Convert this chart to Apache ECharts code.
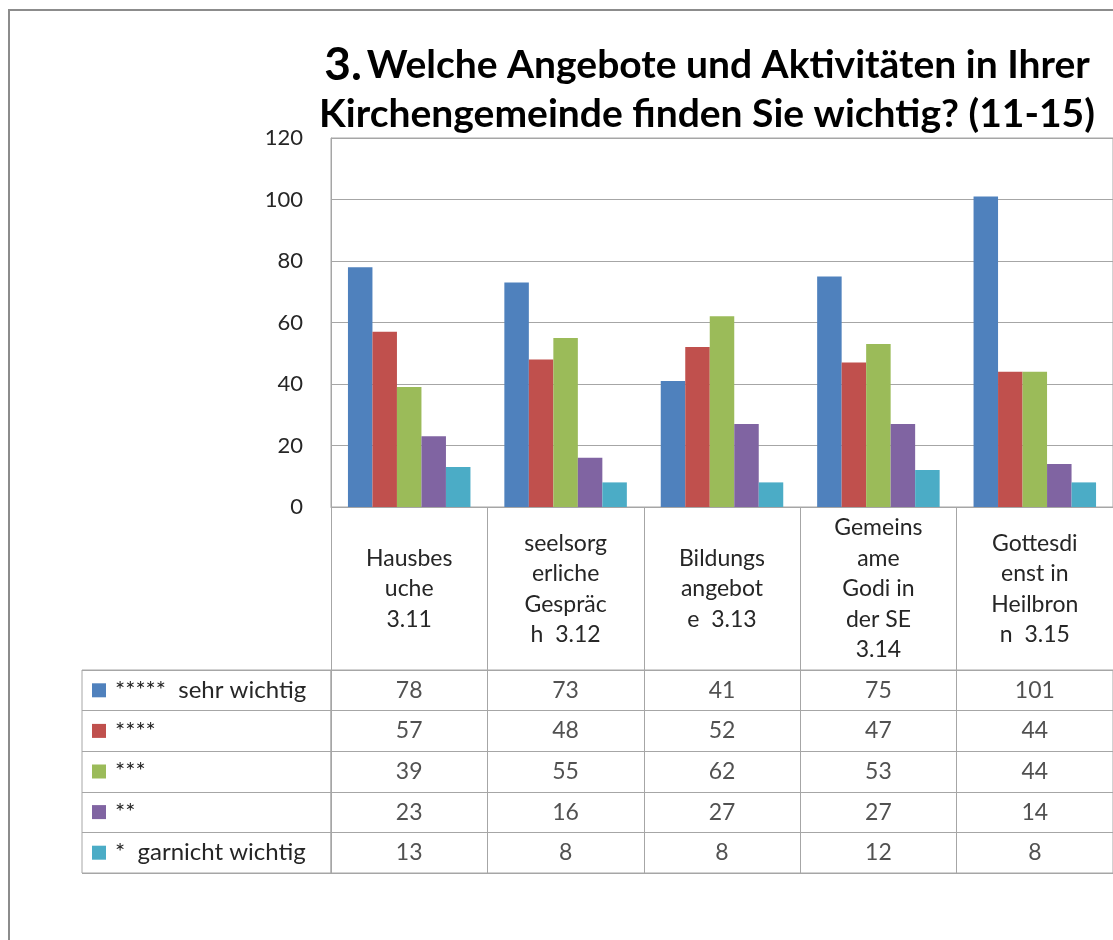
<!DOCTYPE html>
<html>
<head>
    <meta charset="utf-8">
    <title>Angebote und Aktivitäten</title>
    <script src="https://cdn.jsdelivr.net/npm/echarts@6/dist/echarts.min.js"></script>
    <style>
        body { margin: 0; background: #fff; }
    </style>
</head>
<body>
<div id="main" style="width: 1113px;height:940px;"></div>
<script type="text/javascript">
    // Kategorien (Zeilenumbrüche wie im Original)
    var categories = [
        'Hausbes\nuche\n3.11',
        'seelsorg\nerliche\nGespräc\nh  3.12',
        'Bildungs\nangebot\ne  3.13',
        'Gemeins\name\nGodi in\nder SE\n3.14',
        'Gottesdi\nenst in\nHeilbron\nn  3.15'
    ];
    var seriesNames = ['*****  sehr wichtig', '****', '***', '**', '*  garnicht wichtig'];
    var sehrWichtig = [78, 73, 41, 75, 101];
    var vier = [57, 48, 52, 47, 44];
    var drei = [39, 55, 62, 53, 44];
    var zwei = [23, 16, 27, 27, 14];
    var garnicht = [13, 8, 8, 12, 8];
    var yTicks = [0, 20, 40, 60, 80, 100, 120];

    var values = [sehrWichtig, vier, drei, zwei, garnicht];
    var colors = ['#4F81BD', '#C0504D', '#9BBB59', '#8064A2', '#4BACC6'];
    var lineGray = '#A6A6A6';
    var textColor = '#262626';
    var font = 'Lato';

    var myChart = echarts.init(document.getElementById('main'));

    // Balken
    var series = [];
    values.forEach(function (vals, i) {
        series.push({
            name: seriesNames[i],
            type: 'bar',
            xAxisIndex: 0,
            yAxisIndex: 0,
            barWidth: 24.5,
            barGap: '0%',
            itemStyle: {color: colors[i]},
            data: vals
        });
    });

    // Datentabelle: Werte als Labels in eigenem Grid
    var tableData = [];
    values.forEach(function (vals, s) {
        vals.forEach(function (v, c) {
            tableData.push([c, s, v]);
        });
    });
    series.push({
        type: 'scatter',
        xAxisIndex: 1,
        yAxisIndex: 1,
        symbolSize: 1,
        itemStyle: {color: 'rgba(0,0,0,0)'},
        silent: true,
        label: {
            show: true,
            position: 'inside',
            formatter: function (p) { return p.value[2]; },
            fontFamily: font,
            fontSize: 23,
            color: textColor
        },
        data: tableData
    });

    var legendRich = {
        t: {fontFamily: font, fontSize: 24, color: textColor, padding: [0, 0, 0, 9]}
    };
    colors.forEach(function (c, i) {
        legendRich['k' + i] = {width: 14, height: 14, backgroundColor: c};
    });

    var option = {
        animation: false,
        title: {
            left: 702,
            top: 36,
            textAlign: 'center',
            text: '{n|3.} {t|Welche Angebote und Aktivitäten in Ihrer}\n{t|Kirchengemeinde finden Sie wichtig? (11-15)}',
            textStyle: {
                rich: {
                    n: {fontFamily: font, fontWeight: 'bold', fontSize: 46, color: '#000', lineHeight: 49},
                    t: {fontFamily: font, fontWeight: 'bold', fontSize: 39, color: '#000', lineHeight: 49}
                }
            }
        },
        graphic: [{
            type: 'rect',
            shape: {x: 9, y: 10, width: 1200, height: 1000},
            style: {fill: 'none', stroke: '#8C8C8C', lineWidth: 2},
            silent: true
        }],
        grid: [
            {left: 331, top: 138, width: 791, height: 369, show: true, borderColor: lineGray, borderWidth: 1},
            {left: 331, top: 670, width: 791, height: 203, show: true, borderColor: lineGray, borderWidth: 1},
            {left: 82, top: 670, width: 249, height: 203, show: true, borderColor: lineGray, borderWidth: 1}
        ],
        xAxis: [
            {
                type: 'category',
                gridIndex: 0,
                data: categories,
                axisLine: {lineStyle: {color: lineGray}},
                axisTick: {show: true, length: 163, lineStyle: {color: lineGray}},
                axisLabel: {
                    interval: 0,
                    margin: 82,
                    verticalAlign: 'middle',
                    fontFamily: font,
                    fontSize: 23,
                    lineHeight: 30.5,
                    color: textColor
                }
            },
            {
                type: 'category',
                gridIndex: 1,
                data: categories,
                axisLine: {show: false},
                axisTick: {show: false},
                axisLabel: {show: false},
                splitLine: {show: true, lineStyle: {color: lineGray}}
            }
        ],
        yAxis: [
            {
                type: 'value',
                gridIndex: 0,
                min: yTicks[0],
                max: yTicks[yTicks.length - 1],
                interval: 20,
                axisLine: {show: true, lineStyle: {color: lineGray}},
                axisTick: {show: false},
                splitLine: {lineStyle: {color: lineGray}},
                axisLabel: {margin: 28, fontFamily: font, fontSize: 22, color: textColor}
            },
            {
                type: 'category',
                gridIndex: 1,
                inverse: true,
                data: seriesNames,
                axisLine: {show: true, lineStyle: {color: lineGray}},
                axisTick: {show: true, length: 249, lineStyle: {color: lineGray}},
                splitLine: {show: true, lineStyle: {color: lineGray}},
                axisLabel: {
                    align: 'left',
                    margin: 239,
                    formatter: function (v, idx) {
                        return '{k' + idx + '|}{t|' + v + '}';
                    },
                    rich: legendRich
                }
            }
        ],
        series: series
    };
    myChart.setOption(option);
</script>
</body>
</html>
